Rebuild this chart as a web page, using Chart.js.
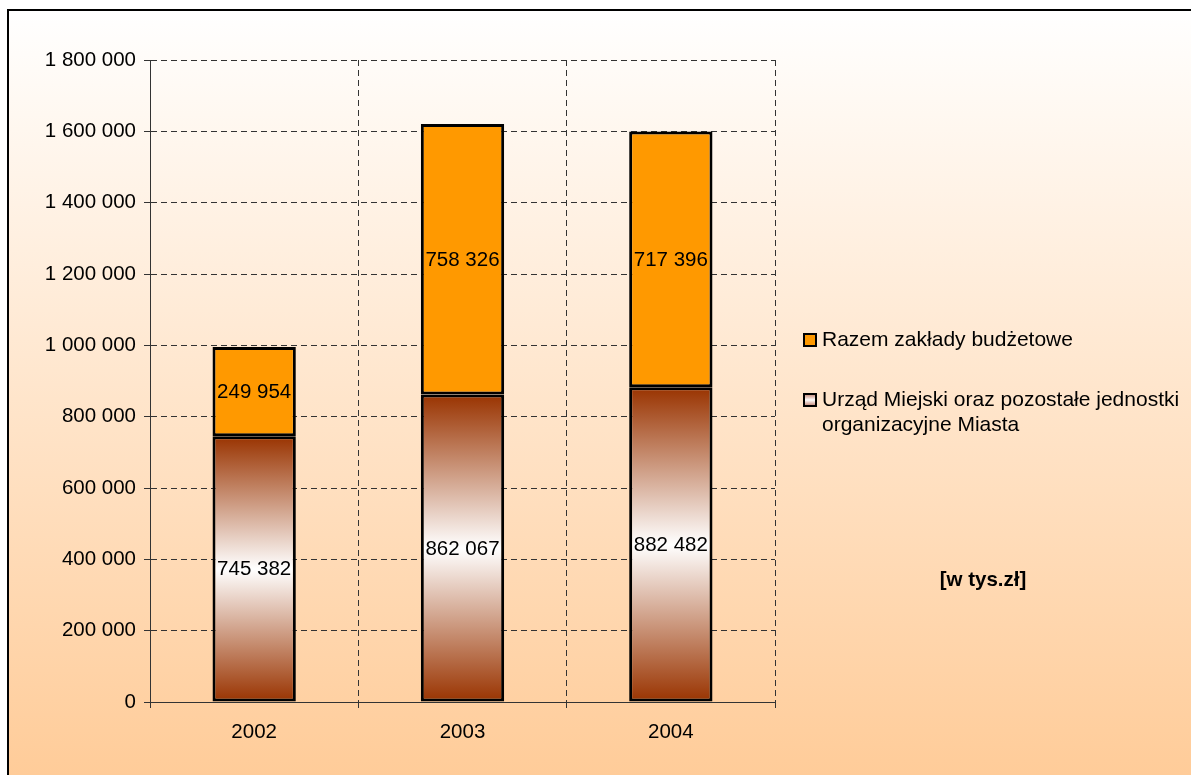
<!DOCTYPE html>
<html>
<head>
<meta charset="utf-8">
<script src="https://cdn.jsdelivr.net/npm/chart.js@4.4.1/dist/chart.umd.min.js"></script>
<style>
html,body{margin:0;padding:0;background:#fff;}
#wrap{width:1191px;height:775px;}
</style>
</head>
<body>
<div id="wrap"><canvas id="c" width="1191" height="775"></canvas></div>
<script>
const categories = ['2002', '2003', '2004'];
const urzadValues = [745382, 862067, 882482];
const zakladyValues = [249954, 758326, 717396];
const seriesNames = ['Urząd Miejski oraz pozostałe jednostki organizacyjne Miasta', 'Razem zakłady budżetowe'];
const legendLines = [['Razem zakłady budżetowe'], ['Urząd Miejski oraz pozostałe jednostki', 'organizacyjne Miasta']];
const unitLabel = '[w tys.zł]';
const yMax = 1800000, yStep = 200000;

const FONT = '"Liberation Sans", Arial, sans-serif';
const FS = 20.5;
const fmt = v => String(v).replace(/\B(?=(\d{3})+(?!\d))/g, ' ');

function brownGradient(ctx) {
  const chart = ctx.chart;
  const ys = chart.scales && chart.scales.y;
  if (!chart.chartArea || !ys || ctx.raw === undefined) return '#993300';
  const top = ys.getPixelForValue(ctx.raw);
  const bot = ys.getPixelForValue(0);
  if (!isFinite(top) || !isFinite(bot) || top === bot) return '#993300';
  const g = chart.ctx.createLinearGradient(0, bot, 0, top);
  g.addColorStop(0, '#993300');
  g.addColorStop(0.5, '#FFFFFF');
  g.addColorStop(1, '#993300');
  return g;
}

const bgPlugin = {
  id: 'bg',
  beforeDraw(chart) {
    const c = chart.ctx;
    c.save();
    c.fillStyle = '#fff';
    c.fillRect(0, 0, chart.width, chart.height);
    const g = c.createLinearGradient(0, 9, 0, chart.height);
    g.addColorStop(0, '#FFFFFF');
    g.addColorStop(1, '#FFCC99');
    c.fillStyle = g;
    c.fillRect(7, 9, chart.width - 7, chart.height - 9);
    c.strokeStyle = '#000';
    c.lineWidth = 2;
    c.beginPath();
    c.moveTo(8, chart.height);
    c.lineTo(8, 10);
    c.lineTo(chart.width, 10);
    c.stroke();
    c.restore();
  }
};

const labelPlugin = {
  id: 'vals',
  afterDatasetsDraw(chart) {
    const c = chart.ctx;
    c.save();
    c.font = FS + 'px ' + FONT;
    c.fillStyle = '#000';
    c.textAlign = 'center';
    c.textBaseline = 'middle';
    chart.data.datasets.forEach((ds, di) => {
      const meta = chart.getDatasetMeta(di);
      meta.data.forEach((el, i) => {
        const p = el.getCenterPoint();
        c.fillText(fmt(ds.data[i]), p.x, p.y + 1);
      });
    });
    c.restore();
  }
};

const legendPlugin = {
  id: 'customLegend',
  afterDraw(chart) {
    const c = chart.ctx;
    c.save();
    c.font = '21px ' + FONT;
    c.textBaseline = 'middle';
    c.textAlign = 'left';
    const entries = [
      {ds: 1, y: 340},
      {ds: 0, y: 400}
    ];
    entries.forEach((e, k) => {
      const bx = 804, by = e.y - 6, s = 12;
      if (e.ds === 1) {
        c.fillStyle = '#FF9900';
      } else {
        const g = c.createLinearGradient(0, by, 0, by + s);
        g.addColorStop(0, '#C08070');
        g.addColorStop(0.5, '#FFFFFF');
        g.addColorStop(1, '#C08070');
        c.fillStyle = g;
      }
      c.fillRect(bx, by, s, s);
      c.strokeStyle = '#000';
      c.lineWidth = 2;
      c.strokeRect(bx, by, s, s);
      c.fillStyle = '#000';
      legendLines[k].forEach((t, li) => c.fillText(t, 822, e.y + li * 25));
    });
    c.font = 'bold ' + FS + 'px ' + FONT;
    c.textAlign = 'center';
    c.fillText(unitLabel, 983, 580);
    c.restore();
  }
};

new Chart(document.getElementById('c'), {
  type: 'bar',
  data: {
    labels: categories,
    datasets: [
      {
        label: seriesNames[0],
        data: urzadValues,
        backgroundColor: brownGradient,
        borderColor: '#000',
        borderWidth: 3,
        borderSkipped: false,
        barPercentage: 0.8,
        categoryPercentage: 0.5
      },
      {
        label: seriesNames[1],
        data: zakladyValues,
        backgroundColor: '#FF9900',
        borderColor: '#000',
        borderWidth: 3,
        borderSkipped: false,
        barPercentage: 0.8,
        categoryPercentage: 0.5
      }
    ]
  },
  options: {
    responsive: false,
    animation: false,
    devicePixelRatio: 1,
    layout: {padding: {left: 0, top: 60, right: 416, bottom: 0}},
    plugins: {legend: {display: false}, tooltip: {enabled: false}},
    scales: {
      x: {
        stacked: true,
        offset: true,
        grid: {offset: true, color: '#333', lineWidth: 1, tickLength: 6, tickColor: '#333', drawOnChartArea: true},
        border: {display: true, color: '#333', width: 1, dash: [6, 4]},
        ticks: {color: '#000', font: {size: FS, family: FONT}, padding: 12},
        afterFit(s) { s.height = 73; }
      },
      y: {
        stacked: true,
        min: 0,
        max: yMax,
        grid: {color: '#333', lineWidth: 1, tickLength: 6, tickColor: '#333'},
        border: {display: true, color: '#333', width: 1, dash: [6, 4]},
        ticks: {stepSize: yStep, color: '#000', font: {size: FS, family: FONT}, padding: 8, callback: v => fmt(v)},
        afterFit(s) { s.width = 150; }
      }
    }
  },
  plugins: [bgPlugin, labelPlugin, legendPlugin]
});
</script>
</body>
</html>
